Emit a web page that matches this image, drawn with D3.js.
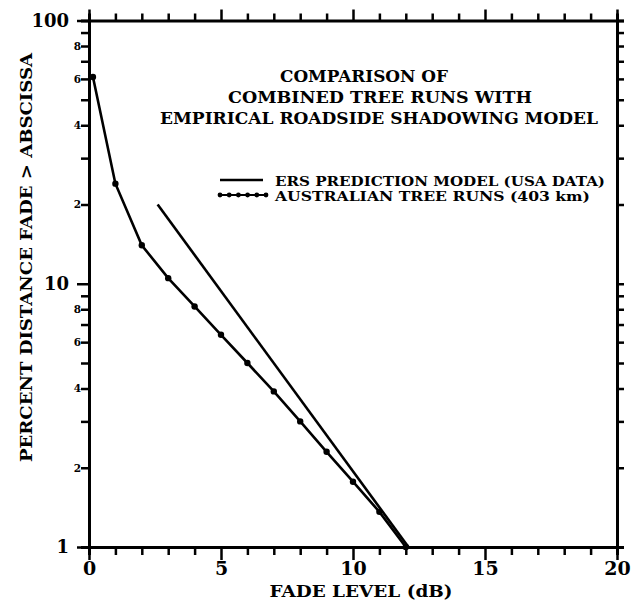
<!DOCTYPE html>
<html>
<head>
<meta charset="utf-8">
<script src="https://cdn.jsdelivr.net/npm/d3@7"></script>
<style>
  html, body { margin: 0; padding: 0; background: #fff; }
  svg text { font-family: "DejaVu Serif", serif; font-weight: bold; fill: #000; }
</style>
</head>
<body>
<svg id="chart" width="632" height="601"></svg>
<script>
// ---- data ----
const fadeLevels    = [0.15, 1, 2, 3, 4, 5, 6, 7, 8, 9, 10, 11, 12];
const australianPct = [61, 24, 14, 10.5, 8.2, 6.4, 5.0, 3.9, 3.0, 2.3, 1.77, 1.36, 1.0];
const ersFade = [2.6, 12.1];
const ersPct  = [20, 1];
const xTicks = d3.range(0, 21, 1);
const xMajor = [0, 5, 10, 15, 20];
const yTicks = [1,2,3,4,5,6,7,8,9,10,20,30,40,50,60,70,80,90,100];
const yLabelSmall = [2,4,6,8,20,40,60,80];
const yLabelBig = [1,10,100];
const titleLines = ["COMPARISON OF", "COMBINED TREE RUNS WITH", "EMPIRICAL ROADSIDE SHADOWING MODEL"];
const legendLabels = ["ERS PREDICTION MODEL (USA DATA)", "AUSTRALIAN TREE RUNS (403 km)"];
const xTitle = "FADE LEVEL (dB)";
const yTitle = "PERCENT DISTANCE FADE > ABSCISSA";

// ---- layout ----
const L = 89, R = 617, T = 20.5, B = 547;
const svg = d3.select("#chart");
const x = d3.scaleLinear().domain([0, 20]).range([L, R]);
const y = d3.scaleLog().domain([1, 100]).range([B, T]);

// bottom axis
const gB = svg.append("g").attr("transform", `translate(0,${B})`)
  .call(d3.axisBottom(x).tickValues(xTicks).tickSize(8).tickPadding(6)
    .tickFormat(d => xMajor.includes(d) ? d : ""));
gB.selectAll(".tick line").attr("y2", d => xMajor.includes(d) ? 13 : 8);
gB.selectAll(".tick text").attr("y", 15).attr("font-size", 19)
  .style("font-family", "DejaVu Serif").style("font-weight", "bold");

// top axis
const gT = svg.append("g").attr("transform", `translate(0,${T})`)
  .call(d3.axisTop(x).tickValues(xTicks).tickSize(7).tickFormat(""));
gT.selectAll(".tick line").attr("y2", d => xMajor.includes(d) ? -11 : -7);

// left axis
const gL = svg.append("g").attr("transform", `translate(${L},0)`)
  .call(d3.axisLeft(y).tickValues(yTicks).tickSize(8).tickPadding(1)
    .tickFormat(d => yLabelBig.includes(d) ? String(d) : (yLabelSmall.includes(d) ? String(d / Math.pow(10, Math.floor(Math.log10(d) + 1e-9))) : "")));
gL.selectAll(".tick line").attr("x2", d => yLabelBig.includes(d) ? -12 : -8);
gL.selectAll(".tick text")
  .attr("x", d => yLabelBig.includes(d) ? -20 : -8)
  .attr("font-size", d => yLabelBig.includes(d) ? 18 : 10.5)
  .style("font-family", "DejaVu Serif").style("font-weight", "bold");

// right axis
const gR = svg.append("g").attr("transform", `translate(${R},0)`)
  .call(d3.axisRight(y).tickValues(yTicks).tickSize(7).tickFormat(""));

[gB, gT, gL, gR].forEach(g => {
  g.select(".domain").attr("stroke", "#000").attr("stroke-width", 3);
  g.selectAll(".tick line").attr("stroke", "#000").attr("stroke-width", 2.5);
});

// ---- series ----
const line = d3.line().x(d => x(d[0])).y(d => y(d[1]));
const ausData = fadeLevels.map((f, i) => [f, australianPct[i]]);
const ersData = ersFade.map((f, i) => [f, ersPct[i]]);

svg.append("path").datum(ersData).attr("d", line)
  .attr("fill", "none").attr("stroke", "#000").attr("stroke-width", 2.6);
svg.append("path").datum(ausData).attr("d", line)
  .attr("fill", "none").attr("stroke", "#000").attr("stroke-width", 2.6);
svg.append("g").selectAll("circle").data(ausData).join("circle")
  .attr("cx", d => x(d[0])).attr("cy", d => y(d[1])).attr("r", 3.2).attr("fill", "#000");

// ---- title ----
const titleX = [364, 380, 379], titleY = [82, 103, 124], titleW = [168, 304, 438];
titleLines.forEach((t, i) => {
  svg.append("text").attr("x", titleX[i]).attr("y", titleY[i])
    .attr("text-anchor", "middle").attr("font-size", 17.5)
    .attr("textLength", titleW[i]).attr("lengthAdjust", "spacingAndGlyphs")
    .text(t);
});

// ---- legend ----
const lg = svg.append("g");
lg.append("line").attr("x1", 220).attr("x2", 263).attr("y1", 180).attr("y2", 180)
  .attr("stroke", "#000").attr("stroke-width", 2.6);
lg.append("line").attr("x1", 220).attr("x2", 266).attr("y1", 195).attr("y2", 195)
  .attr("stroke", "#000").attr("stroke-width", 2);
lg.selectAll("circle.lm").data(d3.range(6)).join("circle")
  .attr("cx", i => 220 + i * 9.2).attr("cy", 195).attr("r", 2.4).attr("fill", "#000");
const legW = [330, 315];
legendLabels.forEach((t, i) => {
  lg.append("text").attr("x", 275).attr("y", 186 + i * 15)
    .attr("font-size", 13.5).attr("textLength", legW[i]).attr("lengthAdjust", "spacingAndGlyphs")
    .text(t);
});

// ---- axis titles ----
svg.append("text").attr("x", 361).attr("y", 597).attr("text-anchor", "middle")
  .attr("font-size", 17.5).attr("textLength", 183).attr("lengthAdjust", "spacingAndGlyphs")
  .text(xTitle);
svg.append("text").attr("transform", "translate(32,257.5) rotate(-90)")
  .attr("text-anchor", "middle").attr("font-size", 17.5)
  .attr("textLength", 409).attr("lengthAdjust", "spacingAndGlyphs")
  .text(yTitle);
</script>
</body>
</html>
